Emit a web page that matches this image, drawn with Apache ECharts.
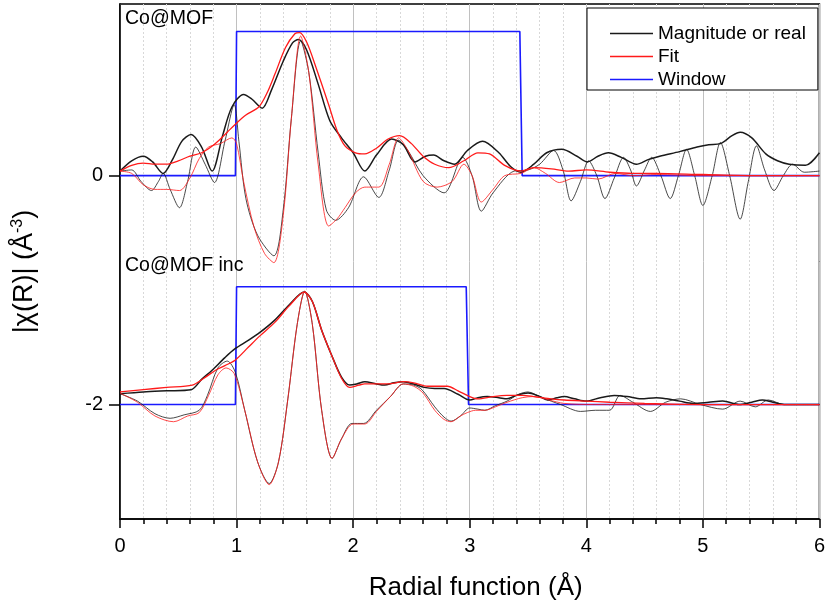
<!DOCTYPE html>
<html>
<head>
<meta charset="utf-8">
<script src="https://cdn.jsdelivr.net/npm/echarts@6.0.0/dist/echarts.min.js"></script>
<style>html,body{margin:0;padding:0;background:#fff}#c{width:828px;height:613px}</style>
</head>
<body>
<div id="c"></div>
<script>
// ---- data (x in Å, y in Å^-3, bottom panel offset by -2) ----
var xTicks = [0, 1, 2, 3, 4, 5, 6];
var yTicks = [0, -2];
var panelLabels = ['Co@MOF', 'Co@MOF inc'];

var topMag = [[0,0.04],[0.1,0.13],[0.2,0.17],[0.28,0.12],[0.37,0.02],[0.45,0.14],[0.53,0.3],[0.61,0.36],[0.7,0.25],[0.79,0.04],[0.88,0.35],[0.96,0.6],[1.06,0.71],[1.13,0.67],[1.22,0.59],[1.3,0.75],[1.4,1.0],[1.48,1.16],[1.53,1.19],[1.6,1.1],[1.7,0.8],[1.8,0.48],[1.9,0.33],[2.0,0.2],[2.1,0.04],[2.2,0.18],[2.33,0.32],[2.43,0.27],[2.53,0.12],[2.62,0.17],[2.69,0.18],[2.78,0.13],[2.87,0.10],[2.98,0.22],[3.11,0.30],[3.25,0.2],[3.35,0.08],[3.44,0.03],[3.55,0.1],[3.66,0.2],[3.79,0.23],[3.92,0.17],[4.01,0.12],[4.1,0.17],[4.19,0.20],[4.3,0.16],[4.43,0.10],[4.53,0.14],[4.63,0.17],[4.8,0.21],[4.95,0.25],[5.05,0.27],[5.15,0.28],[5.25,0.35],[5.32,0.38],[5.42,0.33],[5.54,0.19],[5.64,0.13],[5.74,0.10],[5.88,0.09],[6.0,0.2]];
var topReal = [[0,0.04],[0.1,0.05],[0.18,-0.05],[0.27,-0.13],[0.33,-0.05],[0.37,0.02],[0.43,-0.12],[0.51,-0.28],[0.58,-0.05],[0.65,0.25],[0.73,0.1],[0.81,-0.06],[0.9,0.3],[0.98,0.62],[1.02,0.3],[1.08,-0.2],[1.18,-0.52],[1.32,-0.70],[1.4,-0.3],[1.47,0.5],[1.55,1.18],[1.62,0.9],[1.7,0.2],[1.77,-0.3],[1.85,-0.39],[1.96,-0.28],[2.09,-0.01],[2.22,-0.19],[2.31,0.05],[2.39,0.31],[2.47,0.22],[2.6,0.0],[2.78,-0.15],[2.94,0.16],[3.02,0.0],[3.1,-0.31],[3.2,-0.15],[3.38,0.04],[3.5,0.05],[3.6,0.1],[3.72,0.22],[3.8,0.05],[3.87,-0.22],[3.95,-0.05],[4.02,0.13],[4.09,0.0],[4.16,-0.20],[4.24,-0.02],[4.32,0.16],[4.38,0.05],[4.43,-0.09],[4.5,0.05],[4.56,0.16],[4.64,0.0],[4.72,-0.20],[4.79,0.0],[4.86,0.23],[4.93,0.0],[5.0,-0.26],[5.08,0.0],[5.15,0.29],[5.23,0.0],[5.32,-0.38],[5.39,-0.05],[5.46,0.26],[5.53,0.05],[5.61,-0.13],[5.69,0.0],[5.77,0.10],[5.87,0.03],[6.0,0.04]];
var topFitMag = [[0,0.04],[0.1,0.09],[0.2,0.11],[0.3,0.10],[0.4,0.10],[0.5,0.13],[0.6,0.17],[0.7,0.2],[0.78,0.25],[0.85,0.31],[0.92,0.38],[0.99,0.45],[1.08,0.53],[1.19,0.60],[1.26,0.72],[1.33,0.89],[1.42,1.12],[1.5,1.24],[1.54,1.25],[1.6,1.17],[1.68,0.95],[1.79,0.62],[1.86,0.4],[1.93,0.26],[2.02,0.2],[2.1,0.19],[2.2,0.24],[2.3,0.32],[2.4,0.35],[2.5,0.28],[2.6,0.17],[2.7,0.1],[2.82,0.07],[2.95,0.13],[3.07,0.2],[3.17,0.19],[3.3,0.09],[3.44,0.04],[3.55,0.07],[3.7,0.06],[3.85,0.04],[4.0,0.05],[4.2,0.03],[4.4,0.02],[4.6,0.02],[5.0,0.01],[5.5,0.0],[6.0,0.0]];
var topFitReal = [[0,0.04],[0.1,0.02],[0.2,-0.08],[0.3,-0.12],[0.4,-0.12],[0.51,-0.13],[0.6,-0.02],[0.68,0.15],[0.76,0.25],[0.86,0.28],[0.96,0.33],[1.0,0.28],[1.06,-0.05],[1.15,-0.45],[1.24,-0.68],[1.32,-0.76],[1.4,-0.35],[1.47,0.5],[1.55,1.22],[1.62,0.9],[1.7,0.1],[1.79,-0.44],[1.86,-0.38],[1.93,-0.28],[2.02,-0.15],[2.1,-0.10],[2.22,-0.10],[2.31,0.1],[2.39,0.33],[2.47,0.22],[2.6,-0.05],[2.72,-0.1],[2.85,-0.05],[2.95,0.1],[3.02,0.0],[3.1,-0.23],[3.2,-0.12],[3.3,0.0],[3.44,0.02],[3.55,0.07],[3.65,0.02],[3.77,-0.06],[3.9,-0.02],[4.0,-0.02],[4.1,-0.03],[4.25,0.02],[4.4,0.0],[4.6,0.01],[5.0,0.0],[6.0,0.0]];
var topWindow = [[0,0],[0.99,0],[1.0,1.26],[3.43,1.26],[3.45,0],[6,0]];

var botMag = [[0,-1.905],[0.2,-1.89],[0.4,-1.88],[0.61,-1.87],[0.7,-1.78],[0.79,-1.70],[0.9,-1.59],[0.99,-1.51],[1.1,-1.44],[1.2,-1.37],[1.33,-1.26],[1.45,-1.13],[1.58,-1.017],[1.65,-1.1],[1.73,-1.35],[1.82,-1.58],[1.9,-1.76],[1.97,-1.83],[2.03,-1.82],[2.1,-1.80],[2.2,-1.82],[2.27,-1.83],[2.35,-1.81],[2.43,-1.80],[2.52,-1.82],[2.61,-1.85],[2.7,-1.86],[2.78,-1.86],[2.9,-1.91],[3.0,-1.96],[3.07,-1.94],[3.15,-1.93],[3.25,-1.94],[3.32,-1.95],[3.4,-1.92],[3.5,-1.90],[3.6,-1.93],[3.67,-1.96],[3.75,-1.94],[3.81,-1.93],[3.9,-1.95],[4.0,-1.97],[4.12,-1.94],[4.24,-1.92],[4.35,-1.93],[4.47,-1.95],[4.6,-1.94],[4.69,-1.95],[4.8,-1.97],[4.92,-1.99],[5.05,-1.98],[5.17,-1.97],[5.31,-2.0],[5.42,-1.98],[5.51,-1.96],[5.6,-1.98],[5.71,-2.0],[5.85,-2.0],[6.0,-2.0]];
var botReal = [[0,-1.905],[0.15,-1.97],[0.3,-2.08],[0.43,-2.12],[0.55,-2.09],[0.68,-2.05],[0.75,-1.92],[0.84,-1.68],[0.92,-1.62],[0.99,-1.72],[1.07,-2.05],[1.18,-2.5],[1.28,-2.69],[1.36,-2.5],[1.44,-1.95],[1.52,-1.3],[1.585,-1.01],[1.65,-1.3],[1.73,-2.05],[1.82,-2.47],[1.9,-2.3],[1.99,-2.165],[2.09,-2.165],[2.2,-2.05],[2.32,-1.93],[2.43,-1.82],[2.52,-1.83],[2.59,-1.87],[2.7,-2.02],[2.78,-2.11],[2.84,-2.145],[2.92,-2.1],[3.0,-2.03],[3.07,-2.04],[3.13,-2.05],[3.22,-2.01],[3.32,-1.97],[3.42,-1.91],[3.5,-1.89],[3.62,-1.94],[3.78,-2.0],[3.95,-2.06],[4.08,-2.05],[4.2,-2.05],[4.29,-1.92],[4.4,-1.98],[4.55,-2.06],[4.68,-1.98],[4.81,-1.95],[4.98,-2.0],[5.17,-2.04],[5.32,-1.97],[5.45,-2.02],[5.56,-1.96],[5.70,-2.0],[6.0,-2.0]];
var botFitMag = [[0,-1.89],[0.2,-1.87],[0.4,-1.85],[0.62,-1.83],[0.72,-1.77],[0.82,-1.70],[0.9,-1.66],[0.99,-1.61],[1.1,-1.50],[1.2,-1.40],[1.33,-1.28],[1.45,-1.14],[1.58,-1.017],[1.65,-1.1],[1.73,-1.35],[1.82,-1.58],[1.9,-1.77],[1.97,-1.85],[2.05,-1.83],[2.1,-1.82],[2.2,-1.82],[2.3,-1.82],[2.43,-1.80],[2.52,-1.81],[2.64,-1.84],[2.75,-1.84],[2.81,-1.84],[2.9,-1.88],[3.0,-1.93],[3.07,-1.95],[3.2,-1.93],[3.32,-1.92],[3.45,-1.92],[3.55,-1.93],[3.7,-1.95],[3.81,-1.96],[4.0,-1.97],[4.2,-1.98],[4.5,-1.99],[5.0,-2.0],[6.0,-2.0]];
var botFitReal = [[0,-1.9],[0.15,-1.98],[0.3,-2.1],[0.46,-2.15],[0.58,-2.1],[0.68,-2.07],[0.76,-1.92],[0.84,-1.74],[0.91,-1.68],[0.98,-1.73],[1.07,-2.05],[1.18,-2.5],[1.28,-2.70],[1.36,-2.5],[1.44,-1.95],[1.52,-1.3],[1.585,-1.01],[1.65,-1.3],[1.73,-2.05],[1.82,-2.47],[1.9,-2.3],[2.0,-2.17],[2.1,-2.17],[2.2,-2.06],[2.32,-1.93],[2.43,-1.82],[2.52,-1.84],[2.6,-1.9],[2.7,-2.05],[2.78,-2.13],[2.84,-2.15],[2.92,-2.1],[2.98,-2.07],[3.05,-2.05],[3.13,-2.05],[3.22,-2.02],[3.32,-1.98],[3.45,-1.94],[3.55,-1.93],[3.68,-1.96],[3.81,-1.99],[4.06,-2.0],[4.5,-2.0],[6.0,-2.0]];
var botWindow = [[0,-2],[0.99,-2],[1.0,-0.97],[2.97,-0.97],[2.99,-2],[6,-2]];

var BLACK = '#1a1a1a', RED = '#ff1a1a', BLUE = '#1a1aff';
var FONT = 'Liberation Sans, Arial, sans-serif';
function curve(name, data, color, width, z) {
  return { name: name, type: 'line', data: data, symbol: 'none', showSymbol: false, smooth: 0.3,
    lineStyle: { color: color, width: width }, itemStyle: { color: color }, z: z, animation: false };
}
function win(data) {
  return { name: 'Window', type: 'line', data: data, symbol: 'none', showSymbol: false, smooth: false,
    lineStyle: { color: BLUE, width: 1.6 }, itemStyle: { color: BLUE }, z: 3, animation: false };
}

var chart = echarts.init(document.getElementById('c'));
chart.setOption({
  backgroundColor: '#fff',
  animation: false,
  textStyle: { fontFamily: FONT },
  grid: { left: 120, right: 7, top: 4, bottom: 94, show: true, borderColor: '#000', borderWidth: 1.5, containLabel: false },
  legend: {
    data: ['Magnitude or real', 'Fit', 'Window'],
    icon: 'rect',
    orient: 'vertical', left: 587, top: 8,
    backgroundColor: '#fff', borderColor: '#000', borderWidth: 1,
    padding: [16, 12, 1, 23], itemWidth: 43, itemHeight: 1.5, itemGap: 4,
    textStyle: { fontSize: 19, lineHeight: 19, color: '#000', fontFamily: FONT }
  },
  xAxis: {
    type: 'value', min: 0, max: 6, interval: 1,
    name: 'Radial function (Å)', nameLocation: 'middle', nameGap: 56,
    nameTextStyle: { fontSize: 26, color: '#000', padding: [0, 0, 0, 12] },
    axisLine: { show: true, onZero: false, lineStyle: { color: '#000', width: 1.5 } },
    axisTick: { show: true, inside: false, length: 9, lineStyle: { color: '#000', width: 1.5 } },
    minorTick: { show: true, splitNumber: 5, length: 5, lineStyle: { color: '#000', width: 1.5 } },
    axisLabel: { fontSize: 20, color: '#000', margin: 17 },
    splitLine: { show: true, lineStyle: { color: '#c0c0c0', width: 1 } },
    minorSplitLine: { show: true, lineStyle: { color: '#d8d8d8', width: 1, type: [2, 2] } }
  },
  yAxis: {
    type: 'value', min: -3, max: 1.5, interval: 0.5,
    name: '|χ(R)| (Å{sup|-3})', nameLocation: 'middle', nameGap: 80, nameRotate: 90,
    nameTextStyle: { fontSize: 27, color: '#000', padding: [0, 20, 0, 0], rich: { sup: { fontSize: 16, padding: [0, 0, 14, 0], color: '#000' } } },
    axisLine: { show: true, onZero: false, lineStyle: { color: '#000', width: 1.5 } },
    axisTick: { show: true, inside: false, length: 11, customValues: yTicks, lineStyle: { color: '#000', width: 1.5 } },
    axisLabel: { fontSize: 20, color: '#000', margin: 17, customValues: yTicks },
    splitLine: { show: false }
  },
  graphic: [
    { type: 'text', left: 125, top: 9, z: 100, style: { text: panelLabels[0], fontSize: 19.5, fill: '#000', fontFamily: FONT } },
    { type: 'text', left: 125, top: 256, z: 100, style: { text: panelLabels[1], fontSize: 19.5, fill: '#000', fontFamily: FONT } }
  ],
  series: [
    curve('Magnitude or real', topMag, BLACK, 1.5, 4),
    curve('Magnitude or real', topReal, BLACK, 0.8, 4),
    curve('Magnitude or real', botMag, BLACK, 1.5, 4),
    curve('Magnitude or real', botReal, BLACK, 0.8, 4),
    curve('Fit', topFitMag, RED, 1.3, 5),
    curve('Fit', topFitReal, RED, 0.8, 5),
    curve('Fit', botFitMag, RED, 1.3, 5),
    curve('Fit', botFitReal, RED, 0.8, 5),
    win(topWindow),
    win(botWindow)
  ]
});
</script>
</body>
</html>
